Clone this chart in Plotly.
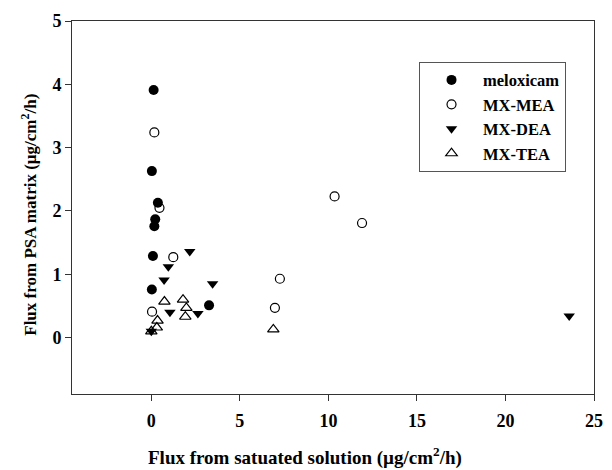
import plotly.graph_objects as go

# Data
melox_x = [0.13, 0.03, 0.37, 0.22, 0.17, 0.09, 0.03, 3.26]
melox_y = [3.91, 2.63, 2.13, 1.87, 1.76, 1.29, 0.76, 0.51]

mea_x = [0.17, 0.46, 1.24, 0.04, 10.35, 11.9, 7.26, 6.98]
mea_y = [3.24, 2.05, 1.27, 0.41, 2.23, 1.81, 0.93, 0.47]

dea_x = [2.17, 0.96, 0.72, 3.46, 1.05, 2.63, 0.0, 23.6]
dea_y = [1.36, 1.12, 0.91, 0.85, 0.40, 0.38, 0.10, 0.34]

tea_x = [0.74, 1.79, 1.98, 1.92, 0.35, 0.31, 0.0, 6.89]
tea_y = [0.57, 0.60, 0.47, 0.33, 0.27, 0.16, 0.10, 0.13]

x_ticks = [0, 5, 10, 15, 20, 25]
y_ticks = [0, 1, 2, 3, 4, 5]

FONT = "Liberation Serif, Times New Roman, serif"

fig = go.Figure()
fig.add_trace(go.Scatter(x=melox_x, y=melox_y, mode="markers", name="meloxicam",
                         marker=dict(symbol="circle", size=10, color="black",
                                     line=dict(width=0))))
fig.add_trace(go.Scatter(x=mea_x, y=mea_y, mode="markers", name="MX-MEA",
                         marker=dict(symbol="circle-open", size=9, color="black",
                                     line=dict(width=1.2, color="black"))))
fig.add_trace(go.Scatter(x=dea_x, y=dea_y, mode="markers", name="MX-DEA",
                         marker=dict(symbol="triangle-down", size=10, color="black",
                                     line=dict(width=0))))
fig.add_trace(go.Scatter(x=tea_x, y=tea_y, mode="markers", name="MX-TEA",
                         marker=dict(symbol="triangle-up-open", size=10, color="black",
                                     line=dict(width=1.2, color="black"))))

axis_common = dict(
    showline=True, linecolor="#333", linewidth=1, mirror=True,
    showgrid=False, zeroline=False,
    ticks="outside", ticklen=6, tickwidth=1, tickcolor="#333",
    tickfont=dict(family=FONT, size=18, color="black", weight="bold"),
)

fig.update_xaxes(range=[-4.48, 25], tickvals=x_ticks,
                 ticktext=[str(v) for v in x_ticks],
                 ticklabelstandoff=4, **axis_common)
fig.update_yaxes(range=[-0.89, 5], tickvals=y_ticks,
                 ticktext=[str(v) for v in y_ticks], **axis_common)

fig.update_layout(
    width=612, height=470,
    margin=dict(l=72, r=9, t=21, b=76),
    paper_bgcolor="white", plot_bgcolor="white",
    showlegend=True,
    legend=dict(
        x=(425 - 72) / 531, y=0.891, xanchor="left", yanchor="top",
        bordercolor="#555", borderwidth=1, bgcolor="white",
        font=dict(family=FONT, size=16.5, color="black", weight="bold"),
        itemwidth=53,
    ),
    annotations=[
        dict(text="Flux from satuated solution (µg/cm<sup>2</sup>/h)",
             xref="paper", yref="paper",
             x=(309 - 72) / 531, y=(394 - 456) / 373,
             xanchor="center", yanchor="middle", showarrow=False,
             font=dict(family=FONT, size=19, color="black", weight="bold")),
        dict(text="Flux from PSA matrix (µg/cm<sup>2</sup>/h)",
             xref="paper", yref="paper",
             x=(28 - 72) / 531, y=(394 - 215) / 373,
             xanchor="center", yanchor="middle", textangle=-90, showarrow=False,
             font=dict(family=FONT, size=17, color="black", weight="bold")),
    ],
)

fig.write_html("out.html", config={"displayModeBar": False},
               post_script="document.body.style.margin='0';")
